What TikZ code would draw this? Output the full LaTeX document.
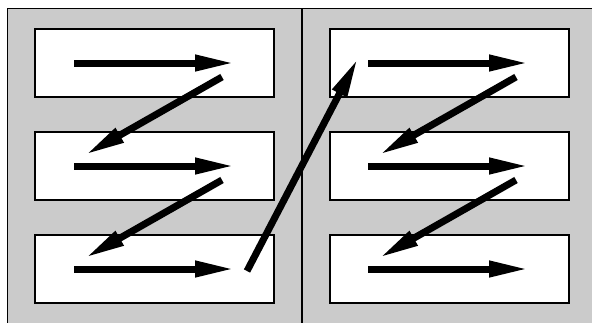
\documentclass[tikz,border=0pt]{standalone}
\usetikzlibrary{arrows.meta}
\definecolor{panelgray}{RGB}{203,203,203}
\begin{document}
\begin{tikzpicture}[x=1pt,y=-1pt,
  rowbox/.style={draw=black,line width=1.8pt,fill=white,minimum width=239pt,minimum height=68pt,inner sep=0pt,anchor=center},
  flow/.style={line width=7pt,-{Triangle[length=40pt,width=15pt]}}]
\useasboundingbox (0,0) rectangle (592,322);
\clip (0,0) rectangle (592,322);
\draw[fill=panelgray,line width=1.5pt] (7.5,8.5) rectangle (610,340);
\draw[line width=1.5pt] (302,8.5) -- (302,340);
% boxes
\foreach \c/\cx in {L/154.5,R/449.5}{
  \node[rowbox] (\c1) at (\cx,63) {};
  \node[rowbox] (\c2) at (\cx,166) {};
  \node[rowbox] (\c3) at (\cx,269) {};
}
% arrow endpoints
\foreach \c/\dx in {L/0,R/294}{
  \foreach \r/\yy in {1/63,2/166,3/269}{
    \coordinate (\c s\r) at (74+\dx,\yy);
    \coordinate (\c e\r) at (235+\dx,\yy);
  }
  \coordinate (\c d1s) at (222+\dx,77);
  \coordinate (\c d1e) at (85+\dx,155);
  \coordinate (\c d2s) at (222+\dx,180);
  \coordinate (\c d2e) at (85+\dx,258);
}
\coordinate (Js) at (247,271);
\coordinate (Je) at (358,58);
\foreach \c in {L,R}{
  \foreach \r in {1,2,3}{ \draw[flow] (\c s\r) -- (\c e\r); }
  \draw[flow] (\c d1s) -- (\c d1e);
  \draw[flow] (\c d2s) -- (\c d2e);
}
\draw[flow] (Js) -- (Je);
\end{tikzpicture}
\end{document}
